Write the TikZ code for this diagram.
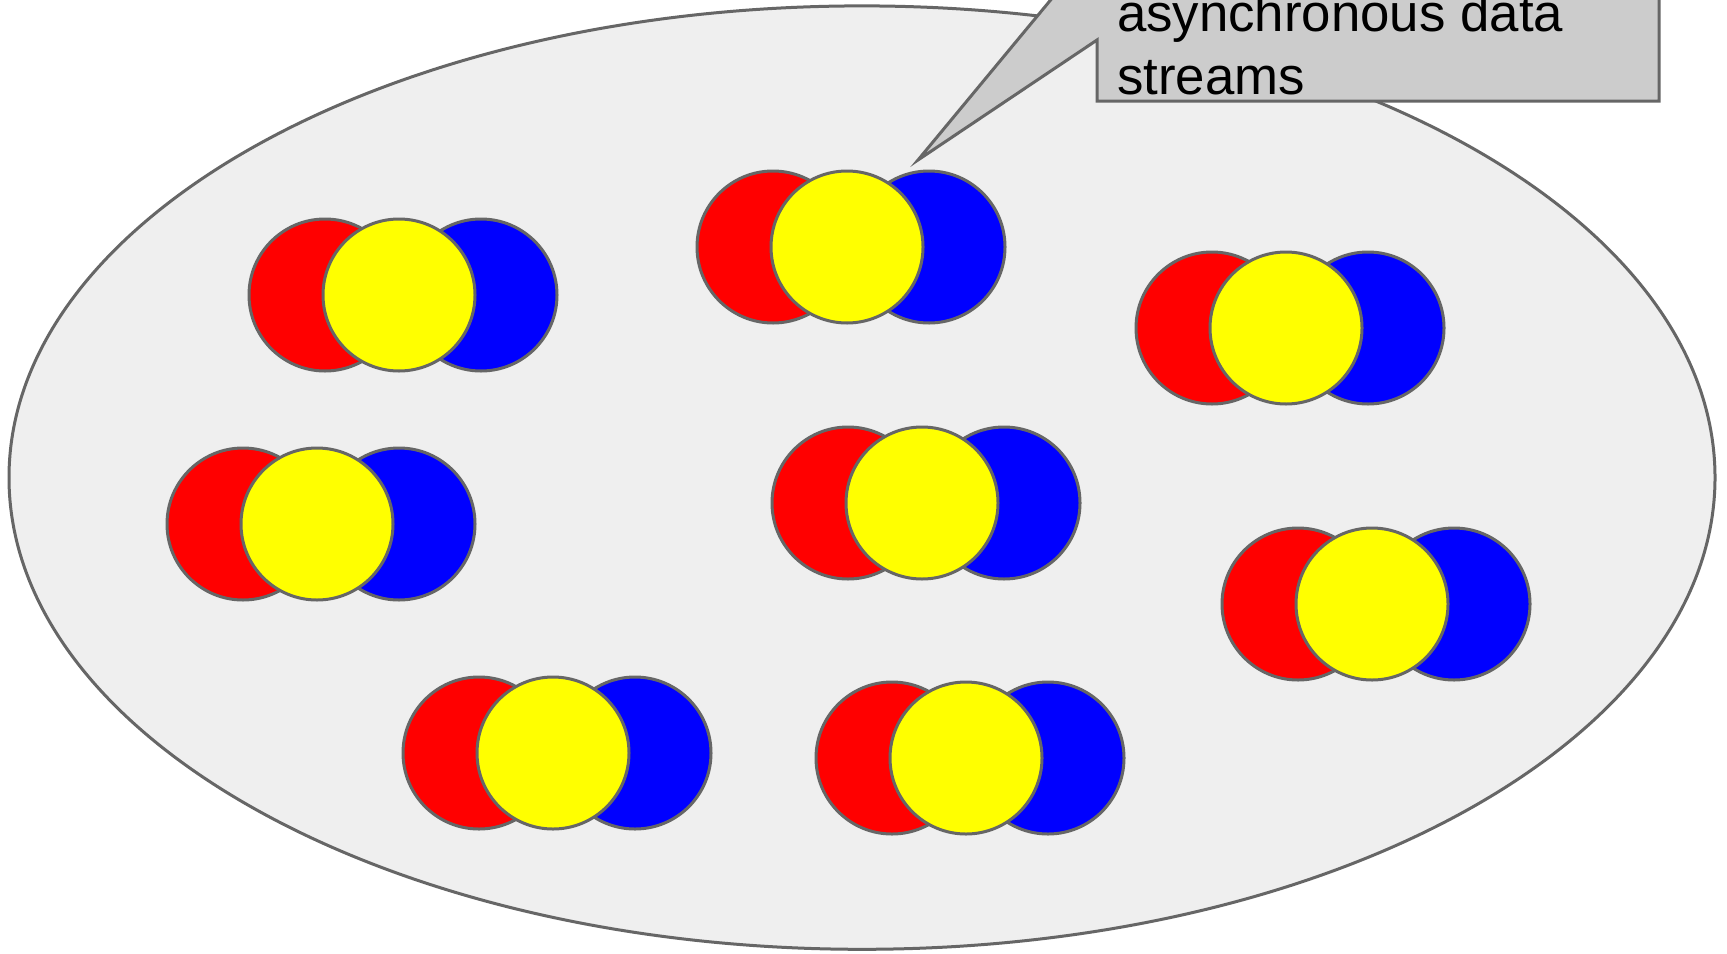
\documentclass[tikz,border=0pt]{standalone}
\usepackage{fontspec}
\setsansfont{Liberation Sans}
\begin{document}
\begin{tikzpicture}[x=.5pt,y=-.5pt,
  outline/.style={draw={rgb,255:red,102;green,102;blue,102},line width=1.5pt},
  ball/.style={outline,circle,inner sep=0pt,outer sep=0pt,minimum size=76pt},
  redball/.style={ball,fill={rgb,255:red,255;green,0;blue,0}},
  blueball/.style={ball,fill={rgb,255:red,0;green,0;blue,255}},
  yellowball/.style={ball,fill={rgb,255:red,255;green,255;blue,0}},
  bubble/.style={outline,line join=miter,fill={rgb,255:red,204;green,204;blue,204}},
  notetext/.style={inner sep=0pt,outer sep=0pt,anchor=base west,align=left,text=black,font=\sffamily\fontsize{26.4}{31.2}\selectfont}]
\path[use as bounding box] (0,0) rectangle (1727,953);
\clip (0,0) rectangle (1727,953);
\path[fill=white,draw=none] (0,0) rectangle (1727,953);
% the pool
\path[outline,fill={rgb,255:red,239;green,239;blue,239}] (862,477.6) ellipse [x radius=853, y radius=471.7];
% three-part streams: red, blue, yellow on top
\foreach \cx/\cy [count=\i] in {399/295, 847/247, 1286/328, 317/524, 922/503, 1372/604, 553/753, 966/758} {
  \node[redball] (red\i) at (\cx-74,\cy) {};
  \node[blueball] (blue\i) at (\cx+82,\cy) {};
  \node[yellowball] (yellow\i) at (\cx,\cy) {};
}
% callout (base anchor sits on the last line)
\coordinate (tip) at (918,160);
\path[bubble] (1097,101) -- (1097,40) -- (tip) -- (1097,-56) -- (1097,-80) -- (1659,-80) -- (1659,101) -- cycle;
\node[notetext] (note) at (1117,94) {asynchronous data\\streams};
\end{tikzpicture}
\end{document}
